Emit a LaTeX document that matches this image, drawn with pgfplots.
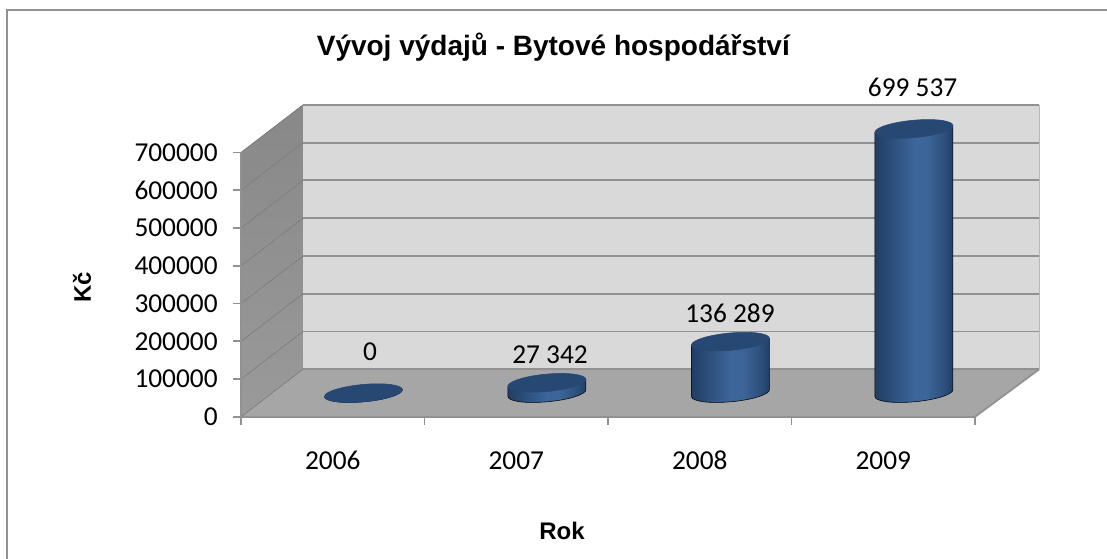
\documentclass[border=0pt]{standalone}
\usepackage{fontspec}
\setmainfont{Carlito}
\newfontfamily\arial{Liberation Sans}
\usepackage{pgfplots}
\pgfplotsset{compat=1.18}

\definecolor{wallback}{RGB}{217,217,217}
\definecolor{wallside}{RGB}{136,136,136}
\definecolor{wallfloor}{RGB}{166,166,166}
\definecolor{gridgray}{RGB}{145,145,145}
\definecolor{cyltop}{RGB}{38,72,115}
\definecolor{cyldark}{RGB}{33,62,100}
\definecolor{cylmid}{RGB}{60,101,153}

\pgfdeclarehorizontalshading{cyl}{100bp}{
  color(0bp)=(cyldark); color(25bp)=(cyldark); color(35bp)=(cyldark!60!cylmid);
  color(50bp)=(cylmid); color(58bp)=(cylmid); color(70bp)=(cyldark!60!cylmid);
  color(75bp)=(cyldark); color(100bp)=(cyldark)}

\begin{document}
\begin{tikzpicture}
\useasboundingbox (0,0) rectangle (830.25pt,419.25pt);
% chart frame, open to the right and at the bottom
\draw[gridgray,line width=1.3pt] (5.5pt,0pt) -- (5.5pt,411.6pt) -- (830.25pt,411.6pt);

% front plane, walls and ticks
\begin{axis}[
  at={(180.75pt,106.6pt)}, anchor=south west,
  scale only axis, width=550.5pt, height=198.3pt,
  clip=false, axis on top,
  xmin=2005.5, xmax=2009.5, ymin=0, ymax=700000,
  axis x line*=bottom, axis y line*=left,
  every non boxed x axis/.style={}, every non boxed y axis/.style={},
  axis line style={draw=gridgray,line width=1.3pt},
  tick align=outside, major tick length=6pt,
  tick style={draw=gridgray,line width=1.3pt},
  xtick={2005.5,2006.5,2007.5,2008.5,2009.5},
  x tick label as interval,
  xticklabels={2006,2007,2008,2009},
  ytick={0,100000,200000,300000,400000,500000,600000,700000},
  scaled y ticks=false,
  /pgf/number format/fixed, /pgf/number format/1000 sep={},
  /pgf/number format/assume math mode=true,
  tick label style={font=\fontsize{20.5}{24}\selectfont,black},
  xticklabel style={yshift=-16pt,text height=14pt,text depth=0pt},
  yticklabel style={xshift=-8pt},
]
\fill[top color=wallside,bottom color=wallside!85!white] (axis cs:2005.5,0) -- (axis cs:2005.838,126000) -- (axis cs:2005.838,826000) -- (axis cs:2005.5,700000) -- cycle;
\fill[wallback] (axis cs:2005.838,126000) rectangle (axis cs:2009.85,826000);
\fill[wallfloor] (axis cs:2005.5,0) -- (axis cs:2009.5,0) -- (axis cs:2009.85,126000) -- (axis cs:2005.838,126000) -- cycle;
\foreach \v in {0,100000,200000,300000,400000,500000,600000,700000}{
  \edef\temp{\noexpand\draw[gridgray,line width=1.4pt] (axis cs:2005.838,\v+126000) -- (axis cs:2009.85,\v+126000);
  \noexpand\draw[wallside!92!black,line width=.5pt] (axis cs:2005.5,\v) -- (axis cs:2005.838,\v+126000);}
  \temp
}
\draw[gridgray,line width=1.3pt] (axis cs:2009.5,0) -- (axis cs:2009.85,126000);
\draw[wallback!85!black,line width=1pt] (axis cs:2009.85,126000) -- (axis cs:2009.85,826000);
\end{axis}

% cylinders, half way into the depth of the floor
\begin{axis}[
  at={(203.75pt,124.4pt)}, anchor=south west,
  scale only axis, width=550.5pt, height=198.3pt,
  clip=false, hide axis,
  xmin=2005.5, xmax=2009.5, ymin=0, ymax=700000,
]
\addplot[
  only marks, scatter, mark=none,
  visualization depends on={value \thisrow{y} \as \rawy},
  scatter/@pre marker code/.code={%
    \begingroup
    \pgfkeys{/pgf/fpu=true,/pgf/fpu/output format=fixed}%
    \pgfmathparse{\rawy*264.4/700000}\xdef\cylh{\pgfmathresult}%
    \endgroup
    % tilted ellipses as explicit curves
    \path[x=.75pt,y=.75pt,shade,shading=cyl,shading angle=0]
      (-39,-\cylh-3.393) .. controls (-39,-\cylh-8.198) and (-21.54,-\cylh-10.574) .. (0,-\cylh-8.7)
      .. controls (21.54,-\cylh-6.826) and (39,-\cylh-1.412) .. (39,-\cylh+3.393)
      -- (39,3.393) -- (-39,-3.393) -- cycle;
    \fill[x=.75pt,y=.75pt,cyltop]
      (39,3.393) .. controls (39,8.198) and (21.54,10.574) .. (0,8.7)
      .. controls (-21.54,6.826) and (-39,1.412) .. (-39,-3.393)
      .. controls (-39,-8.198) and (-21.54,-10.574) .. (0,-8.7)
      .. controls (21.54,-6.826) and (39,-1.412) .. (39,3.393) -- cycle;
  },
  scatter/@post marker code/.code={},
] table[x=x,y=y] {
x y
2006 0
2007 27342
2008 136289
2009 699537
};
\end{axis}

% data labels, set by hand in the original
\path[font=\fontsize{20.5}{24}\selectfont]
  (277.5pt,155.5pt) node {0}
  (412.5pt,153.3pt) node {27 342}
  (547.5pt,184.5pt) node {136 289}
  (684.4pt,353.5pt) node {699 537};
\node[font=\arial\bfseries\fontsize{21}{24}\selectfont] at (415pt,384pt) {Vývoj výdajů - Bytové hospodářství};
\node[font=\arial\bfseries\fontsize{18}{22}\selectfont] at (421.5pt,21pt) {Rok};
\node[font=\arial\bfseries\fontsize{18}{22}\selectfont,rotate=90] at (61.5pt,204pt) {Kč};
\end{tikzpicture}
\end{document}
